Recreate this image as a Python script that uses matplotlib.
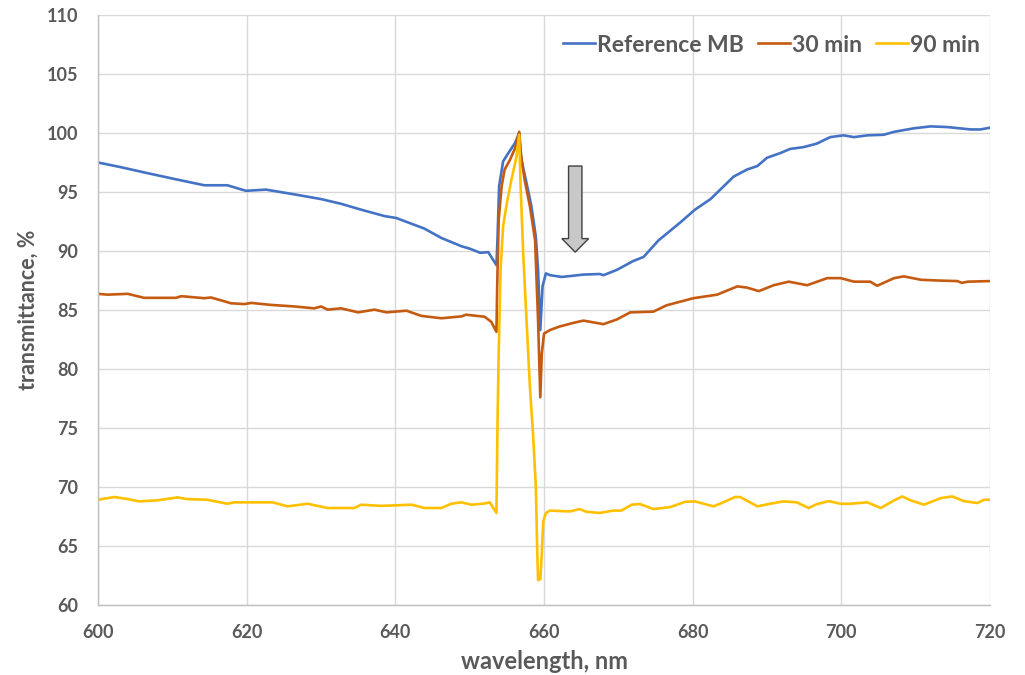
import matplotlib
matplotlib.use("Agg")
import matplotlib.pyplot as plt
from matplotlib.patches import FancyArrow

plt.rcParams['font.family'] = ['Lato', 'DejaVu Sans']

# ---- data ----
ref_x = [600, 603.1, 606.2, 610.3, 614.3, 617.4, 619.9, 622.6, 626.4, 630.0, 632.7, 635.4,
         638.6, 640.1, 643.9, 646.2, 648.9, 650.0, 651.4, 652.5, 653.0, 653.6,
         653.75, 653.96, 654.5, 655.2, 656.1, 656.66, 656.97, 657.65, 658.3, 658.9,
         659.2, 659.5, 659.8, 660.25, 660.8, 662.4, 665.3, 667.5, 668.0, 669.8,
         672.0, 673.4, 675.4, 678.3, 680.3, 682.4, 685.5, 687.3, 688.7, 690.0,
         691.8, 693.1, 694.9, 696.7, 698.5, 700.3, 701.7, 703.5, 705.7, 707.1,
         709.8, 712.0, 714.3, 717.4, 718.7, 720.0]
ref_y = [97.5, 97.1, 96.66, 96.1, 95.57, 95.57, 95.1, 95.2, 94.8, 94.4, 94.0, 93.5,
         92.95, 92.8, 91.9, 91.1, 90.4, 90.2, 89.85, 89.9, 89.4, 88.8,
         91.2, 95.5, 97.6, 98.3, 99.15, 100.0, 97.7, 95.75, 93.8, 91.2,
         88.4, 83.3, 87.0, 88.1, 87.95, 87.8, 88.0, 88.05, 87.95, 88.4,
         89.15, 89.5, 90.9, 92.4, 93.5, 94.4, 96.3, 96.9, 97.2, 97.9,
         98.3, 98.65, 98.8, 99.1, 99.65, 99.8, 99.65, 99.8, 99.85, 100.1,
         100.4, 100.56, 100.5, 100.3, 100.3, 100.45]

m30_x = [600, 601.3, 604.0, 606.2, 610.5, 611.2, 614.3, 615.2, 617.9, 619.7, 620.6,
         623.3, 626.4, 629.1, 630.0, 630.9, 632.7, 635.0, 637.2, 638.8, 641.5,
         643.5, 646.2, 648.9, 649.5, 652.0, 652.9, 653.6,
         653.7, 653.9, 654.3, 654.7, 655.4, 656.1, 656.66, 656.85, 657.4, 658.1,
         658.8, 659.2, 659.5, 659.7, 660.0, 660.8, 662.1, 663.9, 665.3, 668.0,
         669.8, 671.6, 674.7, 676.5, 678.3, 680.1, 683.3, 686.0, 687.3, 688.9,
         690.9, 692.9, 695.4, 698.1, 699.9, 701.7, 703.9, 704.8, 707.1, 708.4,
         710.7, 712.9, 715.6, 716.2, 717.0, 720.0]
m30_y = [86.37, 86.3, 86.37, 86.03, 86.03, 86.17, 86.0, 86.06, 85.57, 85.5, 85.6,
         85.43, 85.3, 85.14, 85.3, 85.03, 85.14, 84.8, 85.03, 84.8, 84.94,
         84.5, 84.3, 84.46, 84.6, 84.43, 84.0, 83.15,
         87.0, 92.6, 95.5, 96.9, 97.7, 98.7, 100.1, 98.3, 96.0, 93.8,
         90.9, 84.1, 77.6, 81.3, 83.0, 83.3, 83.6, 83.9, 84.1, 83.8,
         84.2, 84.8, 84.86, 85.4, 85.7, 86.0, 86.3, 87.0, 86.9, 86.6,
         87.1, 87.4, 87.1, 87.7, 87.7, 87.4, 87.4, 87.05, 87.7, 87.85,
         87.56, 87.5, 87.45, 87.3, 87.4, 87.45]

m90_x = [600, 602.2, 604.0, 605.5, 608.0, 610.7, 611.9, 614.7, 617.4, 618.3, 623.5,
         625.5, 628.2, 630.9, 634.5, 635.4, 638.1, 642.2, 643.9, 646.2, 647.5,
         648.9, 650.2, 652.0, 652.7, 653.6,
         653.75, 653.9, 654.15, 654.5, 655.0, 655.6, 656.3, 656.66, 656.85, 657.2,
         657.65, 658.1, 658.55, 658.9, 659.1, 659.2, 659.5, 659.7, 659.9, 660.25,
         660.8, 663.5, 664.8, 665.7, 667.5, 669.3, 670.4, 671.8, 672.9, 674.7,
         677.0, 679.0, 680.3, 682.8, 683.9, 685.7, 686.4, 688.7, 690.4, 692.2,
         694.0, 695.6, 696.7, 698.3, 699.9, 701.2, 703.5, 705.3, 707.1, 708.2,
         709.3, 711.1, 713.4, 714.9, 716.5, 718.3, 719.2, 720.0]
m90_y = [68.92, 69.15, 68.98, 68.78, 68.87, 69.12, 68.98, 68.92, 68.58, 68.7, 68.7,
         68.36, 68.58, 68.22, 68.22, 68.5, 68.4, 68.5, 68.22, 68.22, 68.58,
         68.7, 68.5, 68.6, 68.7, 67.8,
         75.6, 81.3, 88.4, 92.1, 94.05, 96.0, 98.0, 99.85, 95.5, 89.8,
         84.1, 78.5, 74.2, 70.0, 64.3, 62.1, 62.2, 64.3, 67.1, 67.8,
         68.0, 67.93, 68.13, 67.9, 67.8, 68.0, 68.0, 68.5, 68.56, 68.13,
         68.3, 68.75, 68.78, 68.36, 68.64, 69.15, 69.15, 68.36, 68.58, 68.78,
         68.7, 68.22, 68.55, 68.8, 68.58, 68.58, 68.7, 68.22, 68.87, 69.2,
         68.87, 68.5, 69.06, 69.2, 68.8, 68.64, 68.92, 68.92]

series_names = ["Reference MB", "30 min", "90 min"]
series_colors = ["#4472C4", "#C55A11", "#FFC000"]
x_ticks = [600, 620, 640, 660, 680, 700, 720]
y_ticks = [60, 65, 70, 75, 80, 85, 90, 95, 100, 105, 110]

arrow_x = 664.2
arrow_top = 97.2
arrow_tip = 89.9

# ---- figure ----
fig = plt.figure(figsize=(10.25, 6.75), dpi=100)
ax = fig.add_axes([0.0956, 0.1037, 0.8703, 0.8741])

txt = "#595959"
for xs, ys, name, col in zip([ref_x, m30_x, m90_x], [ref_y, m30_y, m90_y],
                             series_names, series_colors):
    ax.plot(xs, ys, color=col, lw=1.9, label=name, solid_joinstyle='round')

ax.set_xlim(600, 720)
ax.set_ylim(60, 110)
ax.set_xticks(x_ticks)
ax.set_yticks(y_ticks)
ax.grid(True, color="#d9d9d9", lw=1.0)
ax.set_axisbelow(True)
for s in ["top", "right"]:
    ax.spines[s].set_visible(False)
for s in ["left", "bottom"]:
    ax.spines[s].set_color("#bfbfbf")
    ax.spines[s].set_linewidth(1.0)
ax.tick_params(axis='x', length=0, pad=14, labelsize=13, labelcolor=txt)
ax.tick_params(axis='y', length=0, pad=14, labelsize=13, labelcolor=txt)
for lab in ax.get_xticklabels() + ax.get_yticklabels():
    lab.set_fontweight('bold')

ax.set_xlabel("wavelength, nm", fontsize=17, fontweight='bold', color=txt, labelpad=6)
ax.set_ylabel("transmittance, %", fontsize=15.5, fontweight='bold', color=txt, labelpad=6)

leg = fig.legend(*ax.get_legend_handles_labels(), loc="center right", ncol=3,
                 frameon=False, fontsize=16.5, handlelength=1.4, handletextpad=0.1,
                 columnspacing=0.6, borderpad=0, borderaxespad=0,
                 bbox_to_anchor=(980 / 1025, 1 - 45 / 675))
for t in leg.get_texts():
    t.set_color(txt)
    t.set_fontweight('bold')

arr = FancyArrow(arrow_x, arrow_top, 0, arrow_tip - arrow_top, width=1.8,
                 head_width=3.6, head_length=1.15, length_includes_head=True,
                 facecolor="#c8c8c8", edgecolor="#404040", lw=1.0, zorder=5)
ax.add_patch(arr)

fig.savefig("out.png", dpi=100)
